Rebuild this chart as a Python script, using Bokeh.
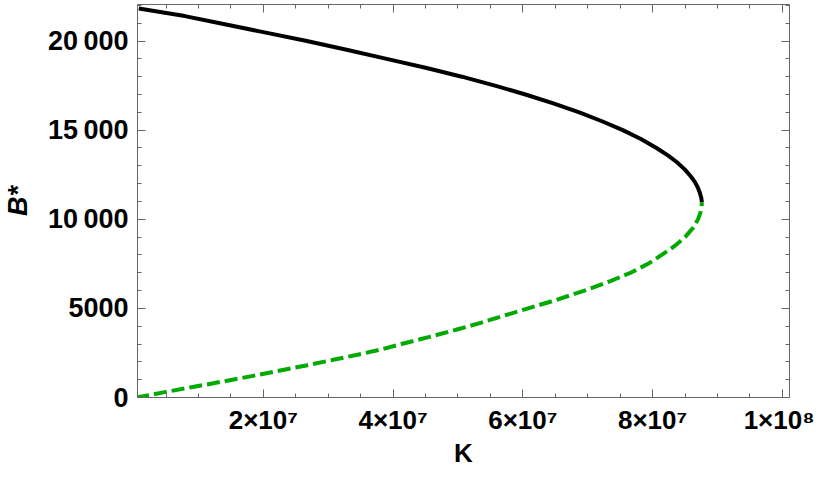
from bokeh.plotting import figure
from bokeh.models import Range1d, LinearAxis, FixedTicker, CustomLabelingPolicy
from bokeh.embed import file_html
from bokeh.resources import INLINE

# Lower (unstable) branch: B* values and K values (in units of 1e7)
lower_B = [0, 300, 600, 900, 1200, 1500, 1800, 2100, 2400, 2700, 3000, 3400, 3800, 4200, 4600,
           5000, 5500, 6000, 6500, 7000, 7500, 8000, 8500, 9000, 9500, 10000, 10400, 10700, 10940]
lower_K = [0.04, 0.48, 0.93, 1.38, 1.82, 2.24, 2.66, 3.06, 3.45, 3.82, 4.13, 4.56, 4.97, 5.36, 5.72,
           6.08, 6.54, 6.95, 7.33, 7.66, 7.93, 8.14, 8.34, 8.50, 8.62, 8.70, 8.74, 8.755, 8.76]

# Upper (stable) branch
upper_B = [10940, 11200, 11500, 11800, 12100, 12400, 12800, 13200, 13600, 14000, 14500, 15000,
           15500, 16000, 16500, 17000, 17500, 18000, 18500, 19000, 19500, 20000, 20500, 21000,
           21400, 21830]
upper_K = [8.76, 8.75, 8.727, 8.695, 8.65, 8.59, 8.495, 8.375, 8.23, 8.06, 7.82, 7.54,
           7.22, 6.87, 6.47, 6.04, 5.57, 5.06, 4.50, 3.90, 3.30, 2.67, 2.00, 1.33,
           0.79, 0.08]

x_ticks = [2e7, 4e7, 6e7, 8e7, 1e8]
x_tick_labels = ["2×10⁷", "4×10⁷", "6×10⁷", "8×10⁷", "1×10⁸"]
x_minor = [i * 0.5e7 for i in range(0, 21)]
y_ticks = [0, 5000, 10000, 15000, 20000]
y_tick_labels = ["0", "5000", "10\u2009000", "15\u2009000", "20\u2009000"]
y_minor = [i * 1000 for i in range(0, 23)]

scale = 1e7
FRAME = "#666666"
FONT = "Liberation Sans"

p = figure(width=814, height=470, output_backend="svg", toolbar_location=None,
           x_range=Range1d(6e5, 1.011e8), y_range=Range1d(0, 22050),
           x_axis_type=None, y_axis_type=None,
           min_border_left=135, min_border_right=25, min_border_top=0, min_border_bottom=68)
p.grid.visible = False
p.outline_line_color = None
p.background_fill_color = "white"
p.border_fill_color = "white"

p.line([k * scale for k in upper_K], upper_B, line_color="black", line_width=4)
p.line([k * scale for k in lower_K], lower_B, line_color="#00aa00", line_width=4, line_dash="13 5")

no_labels = CustomLabelingPolicy(code="""
for (const i of Array.from(indices)) indices.unset(i)
return indices
""")

def style(ax, labels):
    ax.axis_line_color = FRAME
    ax.axis_line_width = 1
    ax.major_tick_line_color = FRAME
    ax.minor_tick_line_color = FRAME
    ax.major_tick_in = 8
    ax.major_tick_out = 0
    ax.minor_tick_in = 4
    ax.minor_tick_out = 0
    if not labels:
        ax.major_label_policy = no_labels
        ax.major_label_text_font_size = "1px"
        ax.major_label_standoff = 0

xt = FixedTicker(ticks=x_ticks, minor_ticks=x_minor)
yt = FixedTicker(ticks=y_ticks, minor_ticks=y_minor)

bottom = LinearAxis(ticker=xt, axis_label="K")
bottom.major_label_overrides = {t: l for t, l in zip(x_ticks, x_tick_labels)}
style(bottom, True)
bottom.major_label_text_font = FONT
bottom.major_label_text_font_style = "bold"
bottom.major_label_text_font_size = "26px"
bottom.major_label_text_color = "black"
bottom.major_label_standoff = 7
bottom.axis_label_text_font = FONT
bottom.axis_label_text_font_style = "bold"
bottom.axis_label_text_font_size = "26px"
bottom.axis_label_text_color = "black"
bottom.axis_label_standoff = 0
p.add_layout(bottom, "below")

left = LinearAxis(ticker=yt, axis_label="B*")
left.major_label_overrides = {t: l for t, l in zip(y_ticks, y_tick_labels)}
style(left, True)
left.major_label_text_font = FONT
left.major_label_text_font_style = "bold"
left.major_label_text_font_size = "27px"
left.major_label_text_color = "black"
left.major_label_standoff = 9
left.axis_label_text_font = FONT
left.axis_label_text_font_style = "bold italic"
left.axis_label_text_font_size = "27px"
left.axis_label_text_color = "black"
left.axis_label_standoff = 12
p.add_layout(left, "left")

top = LinearAxis(ticker=xt)
style(top, False)
p.add_layout(top, "above")

right = LinearAxis(ticker=yt)
style(right, False)
p.add_layout(right, "right")

open("out.html", "w").write(file_html(p, INLINE))
